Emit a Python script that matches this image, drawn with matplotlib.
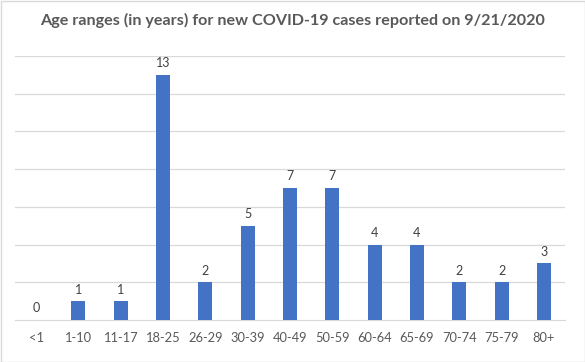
import matplotlib
matplotlib.use("Agg")
from matplotlib import pyplot as plt
from matplotlib.patches import Rectangle

# data
age_ranges = ["<1", "1-10", "11-17", "18-25", "26-29", "30-39", "40-49",
              "50-59", "60-64", "65-69", "70-74", "75-79", "80+"]
new_cases = [0, 1, 1, 13, 2, 5, 7, 7, 4, 4, 2, 2, 3]
title_text = "Age ranges (in years) for new COVID-19 cases reported on 9/21/2020"

bar_color = "#4472C4"
text_color = "#595959"
grid_color = "#D9D9D9"

plt.rcParams['font.family'] = ['Lato', 'DejaVu Sans']

fig = plt.figure(figsize=(5.85, 3.62), dpi=100)
ax = fig.add_axes([15/585, (362-320)/362, 550/585, (320-56)/362])

x = list(range(len(age_ranges)))
bars = ax.bar(x, new_cases, width=0.33, color=bar_color, zorder=3)

# value labels above bars
for xi, v in zip(x, new_cases):
	ax.annotate(str(v), (xi, v), xytext=(0, 4), textcoords="offset points",
		ha="center", va="bottom", fontsize=9, color="#404040")

ax.set_xlim(-0.5, len(age_ranges) - 0.5)
ax.set_ylim(0, 14)
ax.set_yticks(range(2, 15, 2))
ax.yaxis.grid(True, color=grid_color, linewidth=0.9, zorder=0)
ax.tick_params(axis="y", left=False, labelleft=False)
ax.set_xticks(x)
ax.set_xticklabels(age_ranges, fontsize=9.3, color=text_color)
ax.tick_params(axis="x", length=0, pad=9)
for side in ["top", "left", "right"]:
	ax.spines[side].set_visible(False)
ax.spines["bottom"].set_color(grid_color)

fig.text(0.5, 1 - 20/362, title_text, ha="center", va="center",
	fontsize=11.6, fontweight="bold", color=text_color)

# light border around the whole chart area
fig.patches.append(Rectangle((0.5/585, 0.5/362), 584/585, 361/362, transform=fig.transFigure,
	fill=False, edgecolor="#D9D9D9", linewidth=1))

fig.savefig("out.png", dpi=100)
